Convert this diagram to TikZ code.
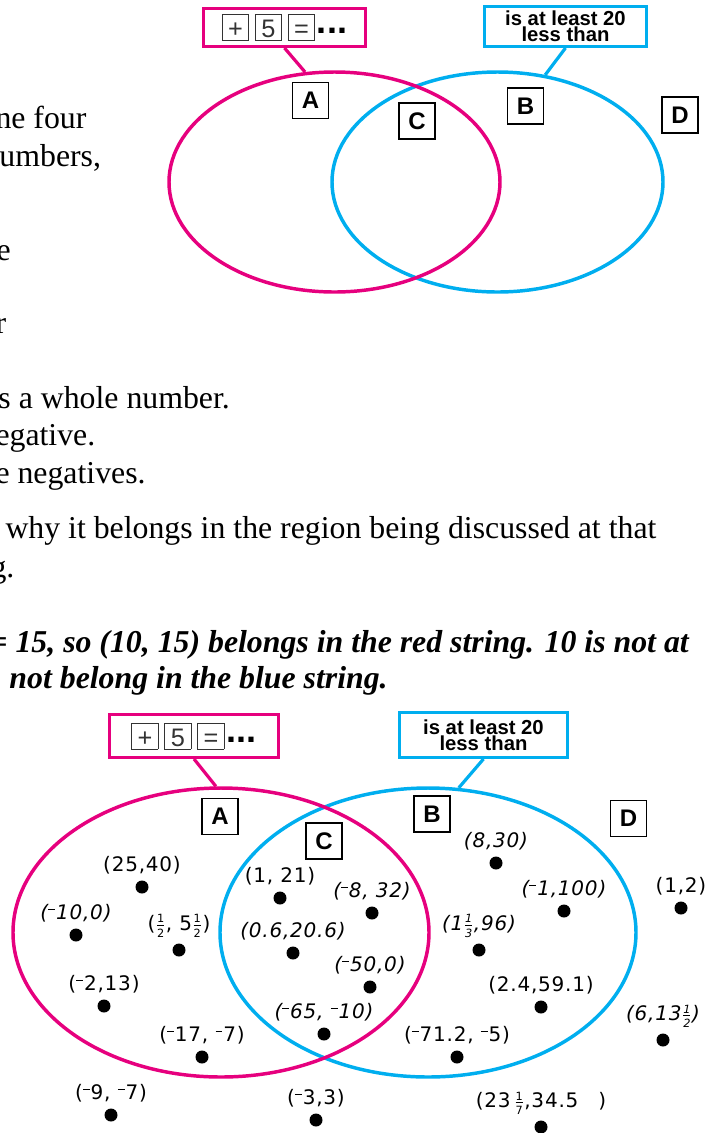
\documentclass[tikz,border=0pt]{standalone}
\usepackage{fontspec}
\setmainfont{Liberation Serif}
\newfontfamily\labelsans{Liberation Sans}
\newfontfamily\pointfont[LetterSpace=4]{DejaVu Sans}
\usetikzlibrary{shapes.geometric,positioning}

\definecolor{stringred}{HTML}{E6007E}
\definecolor{stringblue}{HTML}{00AEEF}
\definecolor{keygray}{HTML}{333333}

% small keys inside the red tag
\newcommand\keybox[1]{{\color{keygray}\setlength\fboxsep{0pt}\setlength\fboxrule{0.7pt}%
  \fbox{\makebox[18.85pt]{\rule[-1.6pt]{0pt}{18.85pt}\labelsans\fontsize{19pt}{19pt}\selectfont#1}}}}
\newcommand\keyrow{\keybox{+}\hspace{4.5pt}\keybox{5}\hspace{4.5pt}\keybox{=}\hspace{1.5pt}%
  \raisebox{3.2pt}{\labelsans\bfseries\fontsize{27pt}{27pt}\selectfont...}}
% raised minus and small fractions of the point labels
\newcommand\upminus{\raisebox{0.46em}{\rule{0.34em}{0.08em}}\hspace{0.05em}}
\newcommand\hfrac[2]{$\frac{\mbox{\fontsize{8.5pt}{8.5pt}\selectfont#1}}{\mbox{\fontsize{8.5pt}{8.5pt}\selectfont#2}}$}

\tikzset{every picture/.style={line width=0.75pt},
  bodytext/.style={anchor=base west, inner sep=0pt, font=\fontsize{23.85pt}{28pt}\selectfont},
  stringring/.style={ellipse, line width=2.6pt, inner sep=0pt},
  tagbox/.style={rectangle, line width=2.2pt, inner sep=0pt},
  tagline/.style={line width=2.4pt},
  regionbox/.style={draw, line width=1pt, minimum size=27pt, inner sep=0pt,
    font=\labelsans\bfseries\fontsize{18pt}{18pt}\selectfont},
  ptdot/.style={circle, fill=black, inner sep=0pt, minimum size=9.75pt},
  ptlabel/.style={inner sep=0pt, font=\pointfont\fontsize{15pt}{15pt}\selectfont}}

\begin{document}
\begin{tikzpicture}[x=0.75pt,y=0.75pt,yscale=-1,xscale=1]
	\useasboundingbox (0,0) rectangle (712,1133);
	
	% Text Node
	\node [bodytext] (t1) at (-5,128) {ne four};
	% Text Node
	\node [bodytext] (t2) at (-1,166) {umbers,};
	% Text Node
	\node [bodytext] (t3) at (-4,260) {e};
	% Text Node
	\node [bodytext] (t4) at (-5,333) {r};
	% Text Node
	\node [bodytext] (t5) at (-2,408) {s a whole number.};
	% Text Node
	\node [bodytext] (t6) at (-5,445) {egative.};
	% Text Node
	\node [bodytext] (t7) at (-5,483) {e negatives.};
	% Text Node
	\node [bodytext] (t8) at (5,538) {why it belongs in the region being discussed at that};
	% Text Node
	\node [bodytext] (t9) at (-10,577) {g.};
	% Text Node
	\node [bodytext, font=\fontsize{23.85pt}{28pt}\selectfont\bfseries\itshape] (t10) at (-11,652) {= 15, so (10, 15) belongs in the red string. 10 is not at};
	% Text Node
	\node [bodytext, font=\fontsize{23.85pt}{28pt}\selectfont\bfseries\itshape] (t11) at (9,688) {not belong in the blue string.};
	
	%Shape: Ellipse
	\node [stringring, draw=stringblue, minimum width=248.25pt, minimum height=165pt] (topB) at (497.5,182) {};
	%Shape: Ellipse
	\node [stringring, draw=stringred, minimum width=248.25pt, minimum height=165pt] (topA) at (334.5,182) {};
	% Tags
	\node [tagbox, draw=stringred, minimum width=121.5pt, minimum height=28.5pt] (topTagA) at (284.5,27.5) {\keyrow};
	\node [tagbox, draw=stringblue, minimum width=121.5pt, minimum height=30pt, align=center,
	  font=\labelsans\bfseries\fontsize{15.2pt}{12.2pt}\selectfont] (topTagB) at (565.5,26.5) {is at least 20\\less than};
	\draw [stringred, tagline] (topTagA.south) -- (topA.105);
	\draw [stringblue, tagline] (topTagB.south) -- (topB.66);
	% Region Boxes
	\node [regionbox] (topRA) at (310.5,100.5) {A};
	\node [regionbox] (topRC) at (417,121) {C};
	\node [regionbox] (topRB) at (525.5,106) {B};
	\node [regionbox] (topRD) at (680,115) {D};
	
	%Shape: Ellipse
	\node [stringring, draw=stringblue, minimum width=312pt, minimum height=216.75pt] (botB) at (428,932.5) {};
	%Shape: Ellipse
	\node [stringring, draw=stringred, minimum width=312pt, minimum height=216.75pt] (botA) at (221,932.5) {};
	% Tags
	\node [tagbox, draw=stringred, minimum width=126.75pt, minimum height=32.25pt] (botTagA) at (194,736) {\keyrow};
	\node [tagbox, draw=stringblue, minimum width=126pt, minimum height=33.75pt, align=center,
	  font=\labelsans\bfseries\fontsize{15.2pt}{12.2pt}\selectfont] (botTagB) at (483.5,735) {is at least 20\\less than};
	\draw [stringred, tagline] (botTagA.south) -- (botA.92);
	\draw [stringblue, tagline] (botTagB.south) -- (botB.78);
	% Region Boxes
	\node [regionbox] (botRA) at (220,816.5) {A};
	\node [regionbox] (botRC) at (324,841) {C};
	\node [regionbox] (botRB) at (432,814) {B};
	\node [regionbox] (botRD) at (628.5,818.5) {D};
	
	% Points, red string only
	\node [ptdot] (p1) at (142,887) {};
	\node [ptlabel, above=4pt of p1] (l1) {(25,40)};
	\node [ptdot] (p2) at (76,935) {};
	\node [ptlabel, above=4pt of p2] (l2) {\itshape(\upminus10,0)};
	\node [ptdot] (p3) at (179,950) {};
	\node [ptlabel, above=4pt of p3] (l3) {(\hfrac12,\ 5\hfrac12)};
	\node [ptdot] (p4) at (104,1006) {};
	\node [ptlabel, above=4pt of p4] (l4) {(\upminus2,13)};
	\node [ptdot] (p5) at (202,1057) {};
	\node [ptlabel, above=4pt of p5] (l5) {(\upminus17, \upminus7)};
	% Points, both strings
	\node [ptdot] (p6) at (280,898) {};
	\node [ptlabel, above=4pt of p6] (l6) {(1, 21)};
	\node [ptdot] (p7) at (372,913) {};
	\node [ptlabel, above=4pt of p7] (l7) {\itshape(\upminus8, 32)};
	\node [ptdot] (p8) at (293,953) {};
	\node [ptlabel, above=4pt of p8] (l8) {\itshape(0.6,20.6)};
	\node [ptdot] (p9) at (370,987) {};
	\node [ptlabel, above=4pt of p9] (l9) {\itshape(\upminus50,0)};
	\node [ptdot] (p10) at (324,1034) {};
	\node [ptlabel, above=4pt of p10] (l10) {\itshape(\upminus65, \upminus10)};
	% Points, blue string only
	\node [ptdot] (p11) at (496,863) {};
	\node [ptlabel, above=4pt of p11] (l11) {\itshape(8,30)};
	\node [ptdot] (p12) at (564,911) {};
	\node [ptlabel, above=4pt of p12] (l12) {\itshape(\upminus1,100)};
	\node [ptdot] (p13) at (479,950) {};
	\node [ptlabel, above=4pt of p13] (l13) {\itshape(1\hfrac13,96)};
	\node [ptdot] (p14) at (541,1007) {};
	\node [ptlabel, above=4pt of p14] (l14) {(2.4,59.1)};
	\node [ptdot] (p15) at (457,1057) {};
	\node [ptlabel, above=4pt of p15] (l15) {(\upminus71.2, \upminus5)};
	% Points, outside
	\node [ptdot] (p16) at (111,1115) {};
	\node [ptlabel, above=4pt of p16] (l16) {(\upminus9, \upminus7)};
	\node [ptdot] (p17) at (316,1120) {};
	\node [ptlabel, above=4pt of p17] (l17) {(\upminus3,3)};
	\node [ptdot] (p18) at (541,1127) {};
	\node [ptlabel, above=4pt of p18] (l18) {(23\,\hfrac17,34.5\quad)};
	\node [ptdot] (p19) at (681,908) {};
	\node [ptlabel, above=4pt of p19] (l19) {(1,2)};
	\node [ptdot] (p20) at (663,1040) {};
	\node [ptlabel, above=4pt of p20] (l20) {\itshape(6,13\hfrac12)};
	
\end{tikzpicture}
\end{document}
